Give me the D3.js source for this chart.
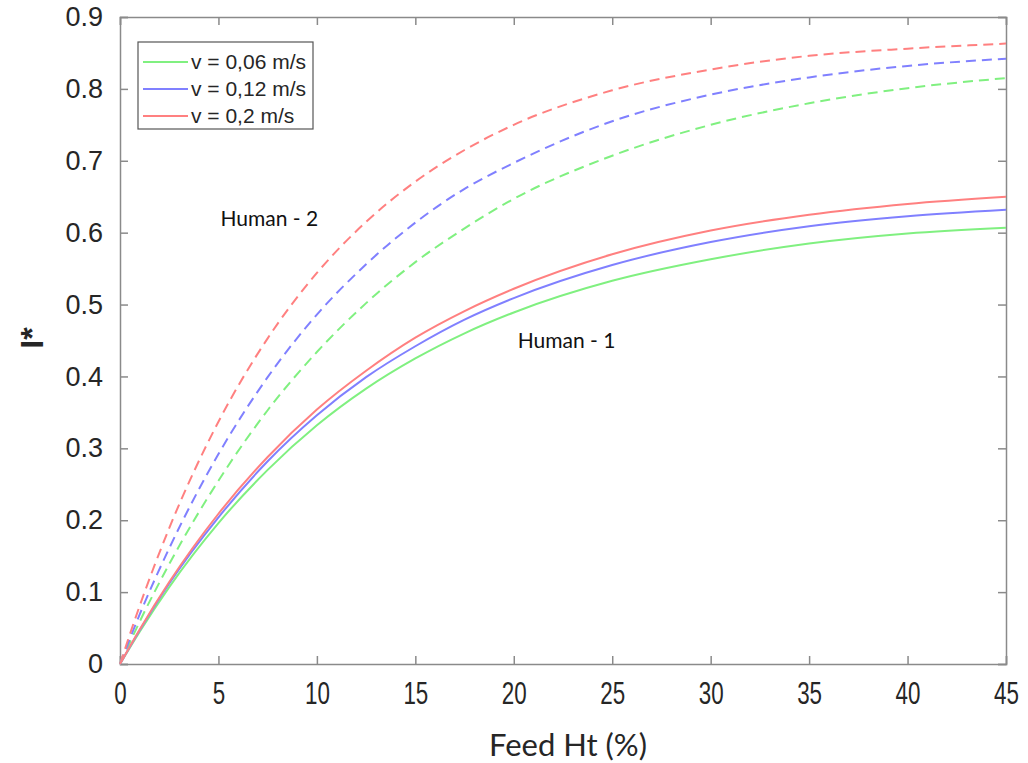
<!DOCTYPE html>
<html>
<head>
<meta charset="utf-8">
<script src="https://cdn.jsdelivr.net/npm/d3@7"></script>
<style>
    body { margin: 0; background: #fff; }
</style>
</head>
<body>
<div id="myPlot"></div>
<script>
// Feed Ht (%) sample points
const feedHt = [0, 1, 2.5, 5, 7.5, 10, 12.5, 15, 17.5, 20, 25, 30, 35, 40, 45];

// Human - 1 (solid)
const h1Slow = [0, 0.045, 0.107, 0.196, 0.270, 0.332, 0.383, 0.425, 0.460, 0.489, 0.533, 0.563, 0.585, 0.599, 0.607];
const h1Mid  = [0, 0.047, 0.112, 0.204, 0.282, 0.346, 0.399, 0.442, 0.479, 0.509, 0.555, 0.587, 0.609, 0.623, 0.632];
const h1Fast = [0, 0.048, 0.114, 0.209, 0.288, 0.354, 0.408, 0.454, 0.491, 0.522, 0.570, 0.603, 0.625, 0.640, 0.650];

// Human - 2 (dashed)
const h2Slow = [0, 0.059, 0.139, 0.255, 0.353, 0.434, 0.502, 0.559, 0.606, 0.647, 0.707, 0.750, 0.780, 0.801, 0.815];
const h2Mid  = [0, 0.069, 0.161, 0.292, 0.399, 0.486, 0.556, 0.614, 0.661, 0.697, 0.755, 0.792, 0.816, 0.832, 0.842];
const h2Fast = [0, 0.081, 0.189, 0.337, 0.453, 0.544, 0.615, 0.671, 0.715, 0.750, 0.798, 0.827, 0.846, 0.856, 0.863];

const legendLabels = ["v = 0,06 m/s", "v = 0,12 m/s", "v = 0,2 m/s"];
const colors = ["#80f080", "#8080ff", "#ff8080"];

const xTicks = [0, 5, 10, 15, 20, 25, 30, 35, 40, 45];
const yTicks = [0, 0.1, 0.2, 0.3, 0.4, 0.5, 0.6, 0.7, 0.8, 0.9];

// Set Dimensions
const width = 1028;
const height = 763;
const plotLeft = 120, plotRight = 1006, plotTop = 17, plotBottom = 664;

const svg = d3.select("#myPlot")
    .append("svg")
    .attr("width", width)
    .attr("height", height)
    .style("font-family", "Liberation Sans, Arial, sans-serif");

const x = d3.scaleLinear().domain([0, 45]).range([plotLeft, plotRight]);
const y = d3.scaleLinear().domain([0, 0.9]).range([plotBottom, plotTop]);

// Axes (ticks inside, box on)
const axisColor = "#8a8a8a";
const tick = 8;

const xAxis = svg.append("g")
    .attr("transform", "translate(0," + plotBottom + ")")
    .call(d3.axisBottom(x).tickValues(xTicks).tickSize(-tick).tickPadding(tick + 9).tickFormat(d3.format("d")));
xAxis.selectAll("text")
    .attr("fill", "#262626")
    .style("font-size", "32px")
    .attr("transform", "scale(0.7,1)");

const yAxis = svg.append("g")
    .attr("transform", "translate(" + plotLeft + ",0)")
    .call(d3.axisLeft(y).tickValues(yTicks).tickSize(-tick).tickPadding(tick + 9)
        .tickFormat(d => d === 0 ? "0" : d3.format(".1f")(d)));
yAxis.selectAll("text")
    .attr("fill", "#262626")
    .style("font-size", "27px");

svg.append("g")
    .attr("transform", "translate(0," + plotTop + ")")
    .call(d3.axisTop(x).tickValues(xTicks).tickSize(-tick).tickFormat(""));
svg.append("g")
    .attr("transform", "translate(" + plotRight + ",0)")
    .call(d3.axisRight(y).tickValues(yTicks).tickSize(-tick).tickFormat(""));

svg.selectAll(".domain").attr("stroke", axisColor).attr("stroke-width", 1.5);
svg.selectAll(".tick line").attr("stroke", axisColor).attr("stroke-width", 1.5);

// Curves
const line = d3.line()
    .x((d, i) => x(feedHt[i]))
    .y(d => y(d))
    .curve(d3.curveMonotoneX);

const dashed = [h2Slow, h2Mid, h2Fast];
const solid = [h1Slow, h1Mid, h1Fast];

dashed.forEach((s, i) => {
    svg.append("path")
        .attr("d", line(s))
        .attr("fill", "none")
        .attr("stroke", colors[i])
        .attr("stroke-width", 2)
        .attr("stroke-dasharray", "10,6");
});
solid.forEach((s, i) => {
    svg.append("path")
        .attr("d", line(s))
        .attr("fill", "none")
        .attr("stroke", colors[i])
        .attr("stroke-width", 2);
});

// Annotations
svg.append("text")
    .attr("x", x(5.1)).attr("y", y(0.62))
    .attr("dy", "0.35em")
    .style("font-family", "Lato, Open Sans, sans-serif")
    .style("font-size", "21px")
    .attr("fill", "#111")
    .text("Human - 2");
svg.append("text")
    .attr("x", x(20.2)).attr("y", y(0.45))
    .attr("dy", "0.35em")
    .style("font-family", "Lato, Open Sans, sans-serif")
    .style("font-size", "21px")
    .attr("fill", "#111")
    .text("Human - 1");

// Legend
const legend = svg.append("g");
legend.append("rect")
    .attr("x", 138).attr("y", 42)
    .attr("width", 175).attr("height", 87)
    .attr("fill", "#fff")
    .attr("stroke", "#555")
    .attr("stroke-width", 1.2);
legendLabels.forEach((lab, i) => {
    const ly = 62 + i * 27;
    legend.append("line")
        .attr("x1", 143).attr("x2", 188)
        .attr("y1", ly).attr("y2", ly)
        .attr("stroke", colors[i])
        .attr("stroke-width", 2);
    legend.append("text")
        .attr("x", 191).attr("y", ly)
        .attr("dy", "0.35em")
        .style("font-size", "21px")
        .attr("fill", "#262626")
        .text(lab);
});

// Axis titles
svg.append("text")
    .attr("x", 568).attr("y", 745)
    .attr("text-anchor", "middle")
    .attr("dy", "0.35em")
    .style("font-family", "Lato, Open Sans, sans-serif")
    .style("font-size", "31px")
    .attr("fill", "#262626")
    .text("Feed Ht (%)");

svg.append("text")
    .attr("transform", "translate(32,338) rotate(-90)")
    .attr("text-anchor", "middle")
    .attr("dy", "0.35em")
    .style("font-size", "32px")
    .style("font-weight", "bold")
    .attr("fill", "#262626")
    .text("I*");
</script>
</body>
</html>
